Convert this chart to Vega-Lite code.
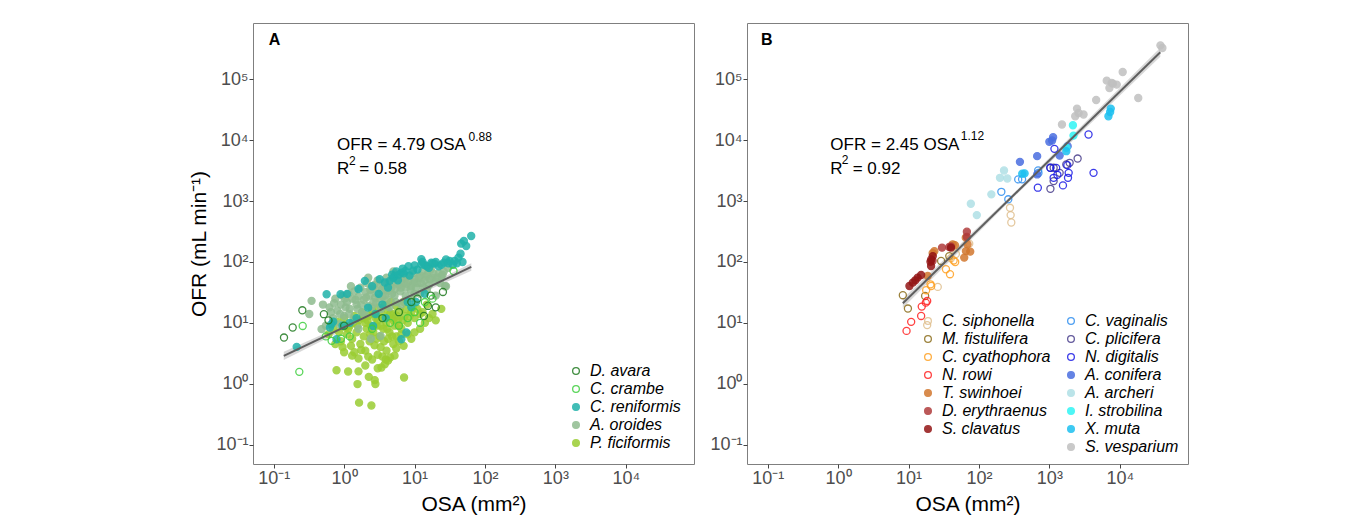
{
  "$schema": "https://vega.github.io/schema/vega-lite/v6.json",
  "background": "white",
  "padding": {"left": 188, "top": 22, "right": 0, "bottom": 0},
  "spacing": 14,
  "config": {
    "font": "Liberation Sans",
    "view": {"stroke": "#7f7f7f", "strokeWidth": 1},
    "axis": {"grid": false, "domain": false, "ticks": true, "tickColor": "#444444", "tickSize": 4, "labelColor": "#4d4d4d", "labelFontSize": 18, "labelPadding": 1, "titleFontSize": 21, "titleFontWeight": "normal", "titleColor": "#000000"}
  },
  "resolve": {"scale": {"fill": "independent", "stroke": "independent"}, "legend": {"fill": "independent", "stroke": "independent"}},
  "datasets": {
    "lineA": [{"x": 0.139, "y": 2.88}, {"x": 64, "y": 83}],
    "bandA": [{"x": 0.139, "lo": 2.45, "hi": 3.35}, {"x": 3, "lo": 14.5, "hi": 16.5}, {"x": 64, "lo": 72, "hi": 95}],
    "lineB": [{"x": 8.3, "y": 21}, {"x": 37600, "y": 278000}],
    "bandB": [{"x": 8.3, "lo": 17.5, "hi": 25}, {"x": 300, "lo": 1110, "hi": 1290}, {"x": 37600, "lo": 235000, "hi": 330000}],
    "annA": [
      {"k": "main", "x": 0.791, "y": 6840, "t": "OFR = 4.79 OSA"},
      {"k": "sup", "x": 58.4, "y": 9700, "t": "0.88"},
      {"k": "main", "x": 0.791, "y": 2830, "t": "R"},
      {"k": "sup", "x": 1.17, "y": 3930, "t": "2"},
      {"k": "main", "x": 1.64, "y": 2830, "t": "= 0.58"},
      {"k": "panel", "x": 0.085, "y": 366000, "t": "A"}
    ],
    "annB": [
      {"k": "main", "x": 0.776, "y": 6840, "t": "OFR = 2.45 OSA"},
      {"k": "sup", "x": 55.3, "y": 9980, "t": "1.12"},
      {"k": "main", "x": 0.776, "y": 2830, "t": "R"},
      {"k": "sup", "x": 1.13, "y": 4030, "t": "2"},
      {"k": "main", "x": 1.61, "y": 2830, "t": "= 0.92"},
      {"k": "panel", "x": 0.08, "y": 366000, "t": "B"}
    ],
    "ptsA": [
      {"sp": "P. ficiformis", "x": 0.78, "y": 1.67}, {"sp": "P. ficiformis", "x": 1.14, "y": 1.59}, {"sp": "P. ficiformis", "x": 1.55, "y": 0.99}, {"sp": "P. ficiformis", "x": 1.63, "y": 0.49}, {"sp": "P. ficiformis", "x": 2.44, "y": 0.44}, {"sp": "P. ficiformis", "x": 2.24, "y": 1.3}, {"sp": "P. ficiformis", "x": 2.78, "y": 0.99}, {"sp": "P. ficiformis", "x": 2.72, "y": 1.15}, {"sp": "P. ficiformis", "x": 7.1, "y": 1.27}, {"sp": "P. ficiformis", "x": 3.39, "y": 1.85}, {"sp": "P. ficiformis", "x": 3.78, "y": 2.1}, {"sp": "P. ficiformis", "x": 4.2, "y": 2.4}, {"sp": "P. ficiformis", "x": 5.2, "y": 2.9}, {"sp": "P. ficiformis", "x": 1.0, "y": 3.3}, {"sp": "P. ficiformis", "x": 1.3, "y": 2.9}, {"sp": "P. ficiformis", "x": 1.6, "y": 2.6}, {"sp": "P. ficiformis", "x": 2.0, "y": 3.5}, {"sp": "P. ficiformis", "x": 2.5, "y": 2.5}, {"sp": "P. ficiformis", "x": 3.0, "y": 3.0}, {"sp": "P. ficiformis", "x": 3.5, "y": 2.8}, {"sp": "P. ficiformis", "x": 4.0, "y": 3.5}, {"sp": "P. ficiformis", "x": 4.5, "y": 2.7}, {"sp": "P. ficiformis", "x": 5.0, "y": 4.5}, {"sp": "P. ficiformis", "x": 5.5, "y": 3.8}, {"sp": "P. ficiformis", "x": 6.0, "y": 5.0}, {"sp": "P. ficiformis", "x": 7.0, "y": 4.2}, {"sp": "P. ficiformis", "x": 8.0, "y": 6.5}, {"sp": "P. ficiformis", "x": 9.0, "y": 5.5}, {"sp": "P. ficiformis", "x": 10, "y": 7}, {"sp": "P. ficiformis", "x": 12, "y": 8}, {"sp": "P. ficiformis", "x": 14, "y": 10}, {"sp": "P. ficiformis", "x": 16, "y": 12}, {"sp": "P. ficiformis", "x": 18, "y": 14}, {"sp": "P. ficiformis", "x": 20, "y": 11}, {"sp": "P. ficiformis", "x": 24, "y": 17}, {"sp": "P. ficiformis", "x": 0.9, "y": 5}, {"sp": "P. ficiformis", "x": 1.1, "y": 6.5}, {"sp": "P. ficiformis", "x": 1.3, "y": 5.5}, {"sp": "P. ficiformis", "x": 1.5, "y": 7}, {"sp": "P. ficiformis", "x": 1.7, "y": 4.5}, {"sp": "P. ficiformis", "x": 1.9, "y": 6}, {"sp": "P. ficiformis", "x": 2.1, "y": 8}, {"sp": "P. ficiformis", "x": 2.3, "y": 5}, {"sp": "P. ficiformis", "x": 2.6, "y": 7}, {"sp": "P. ficiformis", "x": 2.9, "y": 9}, {"sp": "P. ficiformis", "x": 3.2, "y": 6}, {"sp": "P. ficiformis", "x": 3.6, "y": 8}, {"sp": "P. ficiformis", "x": 4.0, "y": 10}, {"sp": "P. ficiformis", "x": 4.4, "y": 7}, {"sp": "P. ficiformis", "x": 4.8, "y": 12}, {"sp": "P. ficiformis", "x": 5.2, "y": 9}, {"sp": "P. ficiformis", "x": 5.8, "y": 11}, {"sp": "P. ficiformis", "x": 6.5, "y": 8}, {"sp": "P. ficiformis", "x": 7.2, "y": 13}, {"sp": "P. ficiformis", "x": 8, "y": 10}, {"sp": "P. ficiformis", "x": 9, "y": 15}, {"sp": "P. ficiformis", "x": 10, "y": 12}, {"sp": "P. ficiformis", "x": 11, "y": 17}, {"sp": "P. ficiformis", "x": 13, "y": 15}, {"sp": "P. ficiformis", "x": 15, "y": 20}, {"sp": "P. ficiformis", "x": 0.7, "y": 8}, {"sp": "P. ficiformis", "x": 0.8, "y": 10.5}, {"sp": "P. ficiformis", "x": 1.0, "y": 12}, {"sp": "P. ficiformis", "x": 1.2, "y": 9}, {"sp": "P. ficiformis", "x": 1.4, "y": 13}, {"sp": "P. ficiformis", "x": 1.6, "y": 11}, {"sp": "P. ficiformis", "x": 1.8, "y": 15}, {"sp": "P. ficiformis", "x": 2.0, "y": 10}, {"sp": "P. ficiformis", "x": 2.2, "y": 13}, {"sp": "P. ficiformis", "x": 2.5, "y": 16}, {"sp": "P. ficiformis", "x": 2.8, "y": 12}, {"sp": "P. ficiformis", "x": 3.1, "y": 18}, {"sp": "P. ficiformis", "x": 3.4, "y": 14}, {"sp": "P. ficiformis", "x": 3.8, "y": 20}, {"sp": "P. ficiformis", "x": 4.2, "y": 16}, {"sp": "P. ficiformis", "x": 4.6, "y": 22}, {"sp": "P. ficiformis", "x": 5, "y": 14}, {"sp": "P. ficiformis", "x": 5.5, "y": 19}, {"sp": "P. ficiformis", "x": 6.2, "y": 16}, {"sp": "P. ficiformis", "x": 7, "y": 22}, {"sp": "P. ficiformis", "x": 0.95, "y": 4}, {"sp": "P. ficiformis", "x": 1.25, "y": 4.2}, {"sp": "P. ficiformis", "x": 1.75, "y": 3.6}, {"sp": "P. ficiformis", "x": 2.7, "y": 4.3}, {"sp": "P. ficiformis", "x": 3.3, "y": 4}, {"sp": "P. ficiformis", "x": 4.2, "y": 5.5}, {"sp": "P. ficiformis", "x": 5.5, "y": 6}, {"sp": "P. ficiformis", "x": 0.6, "y": 6.5}, {"sp": "P. ficiformis", "x": 0.75, "y": 4.5}, {"sp": "P. ficiformis", "x": 2.0, "y": 2.0}, {"sp": "P. ficiformis", "x": 3.0, "y": 1.8}, {"sp": "P. ficiformis", "x": 1.6, "y": 1.6},
      {"sp": "P. ficiformis", "x": 1.15, "y": 8}, {"sp": "P. ficiformis", "x": 1.35, "y": 10}, {"sp": "P. ficiformis", "x": 1.55, "y": 9}, {"sp": "P. ficiformis", "x": 1.85, "y": 12}, {"sp": "P. ficiformis", "x": 2.15, "y": 11}, {"sp": "P. ficiformis", "x": 2.4, "y": 9}, {"sp": "P. ficiformis", "x": 2.65, "y": 14}, {"sp": "P. ficiformis", "x": 3.0, "y": 11}, {"sp": "P. ficiformis", "x": 3.3, "y": 9}, {"sp": "P. ficiformis", "x": 3.7, "y": 12}, {"sp": "P. ficiformis", "x": 4.1, "y": 8}, {"sp": "P. ficiformis", "x": 4.5, "y": 14}, {"sp": "P. ficiformis", "x": 5, "y": 11}, {"sp": "P. ficiformis", "x": 5.6, "y": 13}, {"sp": "P. ficiformis", "x": 6.0, "y": 9}, {"sp": "P. ficiformis", "x": 6.8, "y": 11}, {"sp": "P. ficiformis", "x": 7.6, "y": 17}, {"sp": "P. ficiformis", "x": 8.5, "y": 13}, {"sp": "P. ficiformis", "x": 9.5, "y": 18}, {"sp": "P. ficiformis", "x": 12, "y": 14}, {"sp": "P. ficiformis", "x": 0.85, "y": 7}, {"sp": "P. ficiformis", "x": 1.05, "y": 8.5}, {"sp": "P. ficiformis", "x": 2.35, "y": 6.5}, {"sp": "P. ficiformis", "x": 2.9, "y": 5.5}, {"sp": "P. ficiformis", "x": 3.7, "y": 5}, {"sp": "P. ficiformis", "x": 4.8, "y": 6}, {"sp": "P. ficiformis", "x": 6.5, "y": 6.5}, {"sp": "P. ficiformis", "x": 1.4, "y": 3.3}, {"sp": "P. ficiformis", "x": 2.2, "y": 2.8}, {"sp": "P. ficiformis", "x": 3.9, "y": 2.5},
      {"sp": "A. oroides", "x": 0.32, "y": 14}, {"sp": "A. oroides", "x": 0.345, "y": 23}, {"sp": "A. oroides", "x": 0.478, "y": 7.9}, {"sp": "A. oroides", "x": 0.62, "y": 18}, {"sp": "A. oroides", "x": 0.7, "y": 12}, {"sp": "A. oroides", "x": 0.75, "y": 25}, {"sp": "A. oroides", "x": 0.8, "y": 16}, {"sp": "A. oroides", "x": 0.85, "y": 9.5}, {"sp": "A. oroides", "x": 0.9, "y": 20}, {"sp": "A. oroides", "x": 0.95, "y": 28}, {"sp": "A. oroides", "x": 1.0, "y": 13}, {"sp": "A. oroides", "x": 1.1, "y": 22}, {"sp": "A. oroides", "x": 1.15, "y": 30}, {"sp": "A. oroides", "x": 1.2, "y": 17}, {"sp": "A. oroides", "x": 1.3, "y": 25}, {"sp": "A. oroides", "x": 1.35, "y": 11}, {"sp": "A. oroides", "x": 1.4, "y": 33}, {"sp": "A. oroides", "x": 1.5, "y": 20}, {"sp": "A. oroides", "x": 1.6, "y": 27}, {"sp": "A. oroides", "x": 1.7, "y": 38}, {"sp": "A. oroides", "x": 1.8, "y": 15}, {"sp": "A. oroides", "x": 1.9, "y": 24}, {"sp": "A. oroides", "x": 2.0, "y": 32}, {"sp": "A. oroides", "x": 2.1, "y": 45}, {"sp": "A. oroides", "x": 2.2, "y": 19}, {"sp": "A. oroides", "x": 2.3, "y": 28}, {"sp": "A. oroides", "x": 2.5, "y": 36}, {"sp": "A. oroides", "x": 2.6, "y": 22}, {"sp": "A. oroides", "x": 2.7, "y": 42}, {"sp": "A. oroides", "x": 2.9, "y": 30}, {"sp": "A. oroides", "x": 3.0, "y": 50}, {"sp": "A. oroides", "x": 3.2, "y": 25}, {"sp": "A. oroides", "x": 3.4, "y": 35}, {"sp": "A. oroides", "x": 3.6, "y": 44}, {"sp": "A. oroides", "x": 3.8, "y": 28}, {"sp": "A. oroides", "x": 4.0, "y": 55}, {"sp": "A. oroides", "x": 4.2, "y": 33}, {"sp": "A. oroides", "x": 4.5, "y": 40}, {"sp": "A. oroides", "x": 4.8, "y": 30}, {"sp": "A. oroides", "x": 5.0, "y": 48}, {"sp": "A. oroides", "x": 5.3, "y": 36}, {"sp": "A. oroides", "x": 5.6, "y": 60}, {"sp": "A. oroides", "x": 6.0, "y": 42}, {"sp": "A. oroides", "x": 6.3, "y": 33}, {"sp": "A. oroides", "x": 6.7, "y": 52}, {"sp": "A. oroides", "x": 7.0, "y": 45}, {"sp": "A. oroides", "x": 7.5, "y": 38}, {"sp": "A. oroides", "x": 8.0, "y": 58}, {"sp": "A. oroides", "x": 8.5, "y": 48}, {"sp": "A. oroides", "x": 9.0, "y": 40}, {"sp": "A. oroides", "x": 9.5, "y": 65}, {"sp": "A. oroides", "x": 10, "y": 52}, {"sp": "A. oroides", "x": 11, "y": 45}, {"sp": "A. oroides", "x": 12, "y": 60}, {"sp": "A. oroides", "x": 13, "y": 70}, {"sp": "A. oroides", "x": 14, "y": 50}, {"sp": "A. oroides", "x": 15, "y": 62}, {"sp": "A. oroides", "x": 16, "y": 42}, {"sp": "A. oroides", "x": 17, "y": 75}, {"sp": "A. oroides", "x": 18, "y": 55}, {"sp": "A. oroides", "x": 20, "y": 48}, {"sp": "A. oroides", "x": 22, "y": 65}, {"sp": "A. oroides", "x": 24, "y": 58}, {"sp": "A. oroides", "x": 26, "y": 70}, {"sp": "A. oroides", "x": 28, "y": 40}, {"sp": "A. oroides", "x": 30, "y": 80}, {"sp": "A. oroides", "x": 3.3, "y": 6.1}, {"sp": "A. oroides", "x": 2.4, "y": 5.5}, {"sp": "A. oroides", "x": 1.6, "y": 8}, {"sp": "A. oroides", "x": 4.4, "y": 18}, {"sp": "A. oroides", "x": 6.5, "y": 20}, {"sp": "A. oroides", "x": 9, "y": 25}, {"sp": "A. oroides", "x": 12, "y": 30}, {"sp": "A. oroides", "x": 0.55, "y": 9}, {"sp": "A. oroides", "x": 1.25, "y": 40}, {"sp": "A. oroides", "x": 2.2, "y": 55}, {"sp": "A. oroides", "x": 5, "y": 70}, {"sp": "A. oroides", "x": 15.5, "y": 81}, {"sp": "A. oroides", "x": 27, "y": 40}, {"sp": "A. oroides", "x": 20, "y": 28},
      {"sp": "A. oroides", "x": 1.05, "y": 18}, {"sp": "A. oroides", "x": 1.45, "y": 24}, {"sp": "A. oroides", "x": 1.75, "y": 20}, {"sp": "A. oroides", "x": 2.05, "y": 26}, {"sp": "A. oroides", "x": 2.35, "y": 35}, {"sp": "A. oroides", "x": 2.75, "y": 26}, {"sp": "A. oroides", "x": 3.1, "y": 38}, {"sp": "A. oroides", "x": 3.5, "y": 27}, {"sp": "A. oroides", "x": 3.9, "y": 35}, {"sp": "A. oroides", "x": 4.3, "y": 46}, {"sp": "A. oroides", "x": 4.7, "y": 38}, {"sp": "A. oroides", "x": 5.2, "y": 28}, {"sp": "A. oroides", "x": 5.8, "y": 45}, {"sp": "A. oroides", "x": 6.4, "y": 38}, {"sp": "A. oroides", "x": 7.2, "y": 55}, {"sp": "A. oroides", "x": 7.8, "y": 44}, {"sp": "A. oroides", "x": 8.8, "y": 35}, {"sp": "A. oroides", "x": 9.8, "y": 46}, {"sp": "A. oroides", "x": 10.5, "y": 38}, {"sp": "A. oroides", "x": 11.5, "y": 55}, {"sp": "A. oroides", "x": 12.5, "y": 45}, {"sp": "A. oroides", "x": 13.5, "y": 38}, {"sp": "A. oroides", "x": 14.5, "y": 58}, {"sp": "A. oroides", "x": 16.5, "y": 52}, {"sp": "A. oroides", "x": 18.5, "y": 65}, {"sp": "A. oroides", "x": 21, "y": 55}, {"sp": "A. oroides", "x": 23, "y": 45}, {"sp": "A. oroides", "x": 25, "y": 62}, {"sp": "A. oroides", "x": 0.65, "y": 15}, {"sp": "A. oroides", "x": 0.72, "y": 21}, {"sp": "A. oroides", "x": 0.88, "y": 14}, {"sp": "A. oroides", "x": 1.02, "y": 25}, {"sp": "A. oroides", "x": 1.18, "y": 14}, {"sp": "A. oroides", "x": 1.55, "y": 17}, {"sp": "A. oroides", "x": 1.95, "y": 14}, {"sp": "A. oroides", "x": 2.45, "y": 18}, {"sp": "A. oroides", "x": 2.85, "y": 21}, {"sp": "A. oroides", "x": 3.35, "y": 17}, {"sp": "A. oroides", "x": 4.1, "y": 24}, {"sp": "A. oroides", "x": 5.4, "y": 22}, {"sp": "A. oroides", "x": 7.5, "y": 28}, {"sp": "A. oroides", "x": 10, "y": 30}, {"sp": "A. oroides", "x": 15, "y": 35}, {"sp": "A. oroides", "x": 0.5, "y": 20},
      {"sp": "C. reniformis", "x": 63.8, "y": 267}, {"sp": "C. reniformis", "x": 50.2, "y": 221}, {"sp": "C. reniformis", "x": 46, "y": 200}, {"sp": "C. reniformis", "x": 54.2, "y": 183}, {"sp": "C. reniformis", "x": 45, "y": 137}, {"sp": "C. reniformis", "x": 37, "y": 104}, {"sp": "C. reniformis", "x": 31.5, "y": 104}, {"sp": "C. reniformis", "x": 26.1, "y": 97.5}, {"sp": "C. reniformis", "x": 19.3, "y": 94}, {"sp": "C. reniformis", "x": 17.3, "y": 97.5}, {"sp": "C. reniformis", "x": 13.9, "y": 89}, {"sp": "C. reniformis", "x": 12.5, "y": 92}, {"sp": "C. reniformis", "x": 10, "y": 88}, {"sp": "C. reniformis", "x": 7.4, "y": 71}, {"sp": "C. reniformis", "x": 6.5, "y": 67}, {"sp": "C. reniformis", "x": 5.2, "y": 59}, {"sp": "C. reniformis", "x": 4.45, "y": 49}, {"sp": "C. reniformis", "x": 3.78, "y": 46}, {"sp": "C. reniformis", "x": 1.97, "y": 49}, {"sp": "C. reniformis", "x": 0.889, "y": 29.5}, {"sp": "C. reniformis", "x": 0.564, "y": 29.5}, {"sp": "C. reniformis", "x": 0.78, "y": 5.4}, {"sp": "C. reniformis", "x": 0.212, "y": 4.04}, {"sp": "C. reniformis", "x": 6.5, "y": 5.4}, {"sp": "C. reniformis", "x": 7.65, "y": 6.95}, {"sp": "C. reniformis", "x": 2.58, "y": 8.9}, {"sp": "C. reniformis", "x": 2.19, "y": 17.8}, {"sp": "C. reniformis", "x": 0.628, "y": 8.4}, {"sp": "C. reniformis", "x": 12.5, "y": 111}, {"sp": "C. reniformis", "x": 22, "y": 85}, {"sp": "C. reniformis", "x": 28, "y": 110}, {"sp": "C. reniformis", "x": 40, "y": 95}, {"sp": "C. reniformis", "x": 8.5, "y": 60}, {"sp": "C. reniformis", "x": 5.8, "y": 50}, {"sp": "C. reniformis", "x": 4.2, "y": 38}, {"sp": "C. reniformis", "x": 3.1, "y": 30}, {"sp": "C. reniformis", "x": 1.5, "y": 12}, {"sp": "C. reniformis", "x": 1.2, "y": 10}, {"sp": "C. reniformis", "x": 0.95, "y": 9}, {"sp": "C. reniformis", "x": 0.7, "y": 10.5}, {"sp": "C. reniformis", "x": 9, "y": 18}, {"sp": "C. reniformis", "x": 10.5, "y": 22}, {"sp": "C. reniformis", "x": 14, "y": 30}, {"sp": "C. reniformis", "x": 5, "y": 55}, {"sp": "C. reniformis", "x": 6, "y": 62}, {"sp": "C. reniformis", "x": 7, "y": 65}, {"sp": "C. reniformis", "x": 11, "y": 75}, {"sp": "C. reniformis", "x": 16, "y": 80}, {"sp": "C. reniformis", "x": 20, "y": 100}, {"sp": "C. reniformis", "x": 35, "y": 90}, {"sp": "C. reniformis", "x": 2.8, "y": 14}, {"sp": "C. reniformis", "x": 3.5, "y": 20}, {"sp": "C. reniformis", "x": 0.66, "y": 9.5},
      {"sp": "C. reniformis", "x": 2.5, "y": 40}, {"sp": "C. reniformis", "x": 3.2, "y": 52}, {"sp": "C. reniformis", "x": 4.8, "y": 62}, {"sp": "C. reniformis", "x": 5.5, "y": 70}, {"sp": "C. reniformis", "x": 6.8, "y": 78}, {"sp": "C. reniformis", "x": 8.2, "y": 85}, {"sp": "C. reniformis", "x": 9.5, "y": 72}, {"sp": "C. reniformis", "x": 13, "y": 100}, {"sp": "C. reniformis", "x": 15, "y": 85}, {"sp": "C. reniformis", "x": 18, "y": 95}, {"sp": "C. reniformis", "x": 24, "y": 90}, {"sp": "C. reniformis", "x": 30, "y": 95}, {"sp": "C. reniformis", "x": 42, "y": 118}, {"sp": "C. reniformis", "x": 48, "y": 100}, {"sp": "C. reniformis", "x": 3.9, "y": 12}, {"sp": "C. reniformis", "x": 8, "y": 22}, {"sp": "C. reniformis", "x": 1.1, "y": 30}, {"sp": "C. reniformis", "x": 1.6, "y": 36},
      {"sp": "D. avara", "x": 0.14, "y": 5.75}, {"sp": "D. avara", "x": 0.186, "y": 8.4}, {"sp": "D. avara", "x": 0.255, "y": 16.1}, {"sp": "D. avara", "x": 0.516, "y": 13.9}, {"sp": "D. avara", "x": 13.6, "y": 13}, {"sp": "D. avara", "x": 25.3, "y": 32.2}, {"sp": "D. avara", "x": 15.5, "y": 19}, {"sp": "D. avara", "x": 0.6, "y": 11}, {"sp": "D. avara", "x": 1.0, "y": 9}, {"sp": "D. avara", "x": 9, "y": 22}, {"sp": "D. avara", "x": 11, "y": 25}, {"sp": "D. avara", "x": 20, "y": 18}, {"sp": "D. avara", "x": 6, "y": 15}, {"sp": "D. avara", "x": 3.5, "y": 12}, {"sp": "D. avara", "x": 17, "y": 28},
      {"sp": "C. crambe", "x": 0.231, "y": 1.57}, {"sp": "C. crambe", "x": 0.258, "y": 8.9}, {"sp": "C. crambe", "x": 0.664, "y": 5.07}, {"sp": "C. crambe", "x": 35.8, "y": 71}, {"sp": "C. crambe", "x": 0.55, "y": 6}, {"sp": "C. crambe", "x": 0.9, "y": 5.5}, {"sp": "C. crambe", "x": 1.2, "y": 6}, {"sp": "C. crambe", "x": 8, "y": 12}, {"sp": "C. crambe", "x": 10, "y": 15}, {"sp": "C. crambe", "x": 14, "y": 22}, {"sp": "C. crambe", "x": 12, "y": 10}, {"sp": "C. crambe", "x": 6, "y": 9}, {"sp": "C. crambe", "x": 18, "y": 25}, {"sp": "C. crambe", "x": 4.5, "y": 10}, {"sp": "C. crambe", "x": 2.5, "y": 8}
    ],
    "ptsB": [
      {"sp": "C. siphonella", "x": 276, "y": 776}, {"sp": "C. siphonella", "x": 282, "y": 589}, {"sp": "C. siphonella", "x": 288, "y": 445}, {"sp": "C. siphonella", "x": 72.8, "y": 200}, {"sp": "C. siphonella", "x": 18.4, "y": 9.2}, {"sp": "C. siphonella", "x": 26, "y": 39}, {"sp": "C. siphonella", "x": 47, "y": 135}, {"sp": "C. siphonella", "x": 40, "y": 115},
      {"sp": "M. fistulifera", "x": 8.3, "y": 28.5}, {"sp": "M. fistulifera", "x": 9.8, "y": 17.2}, {"sp": "M. fistulifera", "x": 17.2, "y": 27.7}, {"sp": "M. fistulifera", "x": 29, "y": 104}, {"sp": "M. fistulifera", "x": 37.9, "y": 125},
      {"sp": "C. cyathophora", "x": 34, "y": 76}, {"sp": "C. cyathophora", "x": 38.8, "y": 63}, {"sp": "C. cyathophora", "x": 21, "y": 40.4}, {"sp": "C. cyathophora", "x": 17.8, "y": 34.4}, {"sp": "C. cyathophora", "x": 43.7, "y": 106}, {"sp": "C. cyathophora", "x": 20.5, "y": 43}, {"sp": "C. cyathophora", "x": 46, "y": 100},
      {"sp": "N. rowi", "x": 9.37, "y": 7.39}, {"sp": "N. rowi", "x": 10.9, "y": 10.4}, {"sp": "N. rowi", "x": 15.1, "y": 13}, {"sp": "N. rowi", "x": 15.4, "y": 18.5}, {"sp": "N. rowi", "x": 18.4, "y": 22.9}, {"sp": "N. rowi", "x": 17.6, "y": 21.5},
      {"sp": "T. swinhoei", "x": 23.3, "y": 151}, {"sp": "T. swinhoei", "x": 65.3, "y": 151}, {"sp": "T. swinhoei", "x": 75.2, "y": 148}, {"sp": "T. swinhoei", "x": 61.8, "y": 118}, {"sp": "T. swinhoei", "x": 68.9, "y": 195}, {"sp": "T. swinhoei", "x": 42.3, "y": 195}, {"sp": "T. swinhoei", "x": 18.7, "y": 59}, {"sp": "T. swinhoei", "x": 45.6, "y": 188}, {"sp": "T. swinhoei", "x": 65, "y": 251}, {"sp": "T. swinhoei", "x": 22, "y": 140},
      {"sp": "D. erythraenus", "x": 67.4, "y": 314}, {"sp": "D. erythraenus", "x": 67.4, "y": 257}, {"sp": "D. erythraenus", "x": 29.9, "y": 172}, {"sp": "D. erythraenus", "x": 37.9, "y": 176}, {"sp": "D. erythraenus", "x": 40, "y": 180}, {"sp": "D. erythraenus", "x": 22, "y": 105},
      {"sp": "S. clavatus", "x": 10.3, "y": 40.4}, {"sp": "S. clavatus", "x": 11.5, "y": 45.8}, {"sp": "S. clavatus", "x": 13.5, "y": 55.4}, {"sp": "S. clavatus", "x": 15.1, "y": 61.2}, {"sp": "S. clavatus", "x": 20.5, "y": 101}, {"sp": "S. clavatus", "x": 20.9, "y": 86}, {"sp": "S. clavatus", "x": 22.1, "y": 125}, {"sp": "S. clavatus", "x": 40.1, "y": 172}, {"sp": "S. clavatus", "x": 12.5, "y": 50}, {"sp": "S. clavatus", "x": 21, "y": 110},
      {"sp": "C. vaginalis", "x": 208, "y": 1420}, {"sp": "C. vaginalis", "x": 261, "y": 1070}, {"sp": "C. vaginalis", "x": 361, "y": 2270}, {"sp": "C. vaginalis", "x": 410, "y": 2280}, {"sp": "C. vaginalis", "x": 693, "y": 3180}, {"sp": "C. vaginalis", "x": 700, "y": 2900},
      {"sp": "C. plicifera", "x": 1035, "y": 1590}, {"sp": "C. plicifera", "x": 2520, "y": 5000}, {"sp": "C. plicifera", "x": 1740, "y": 3990}, {"sp": "C. plicifera", "x": 1400, "y": 2910}, {"sp": "C. plicifera", "x": 1150, "y": 3520}, {"sp": "C. plicifera", "x": 1035, "y": 3520}, {"sp": "C. plicifera", "x": 1150, "y": 2130}, {"sp": "C. plicifera", "x": 1940, "y": 4250},
      {"sp": "N. digitalis", "x": 3600, "y": 12400}, {"sp": "N. digitalis", "x": 1180, "y": 7210}, {"sp": "N. digitalis", "x": 4240, "y": 2910}, {"sp": "N. digitalis", "x": 686, "y": 1660}, {"sp": "N. digitalis", "x": 1560, "y": 1810}, {"sp": "N. digitalis", "x": 1840, "y": 2410}, {"sp": "N. digitalis", "x": 1880, "y": 2910}, {"sp": "N. digitalis", "x": 1150, "y": 2410}, {"sp": "N. digitalis", "x": 1030, "y": 3520}, {"sp": "N. digitalis", "x": 1800, "y": 3890}, {"sp": "N. digitalis", "x": 1250, "y": 3500}, {"sp": "N. digitalis", "x": 1300, "y": 2700},
      {"sp": "A. conifera", "x": 1094, "y": 9880}, {"sp": "A. conifera", "x": 1130, "y": 11200}, {"sp": "A. conifera", "x": 1000, "y": 9400}, {"sp": "A. conifera", "x": 382, "y": 4410}, {"sp": "A. conifera", "x": 671, "y": 5470}, {"sp": "A. conifera", "x": 1400, "y": 5610}, {"sp": "A. conifera", "x": 1820, "y": 7980}, {"sp": "A. conifera", "x": 671, "y": 2740},
      {"sp": "A. archeri", "x": 227, "y": 3180}, {"sp": "A. archeri", "x": 199, "y": 2410}, {"sp": "A. archeri", "x": 253, "y": 2350}, {"sp": "A. archeri", "x": 150, "y": 1290}, {"sp": "A. archeri", "x": 76.7, "y": 904}, {"sp": "A. archeri", "x": 93.3, "y": 589},
      {"sp": "I. strobilina", "x": 2160, "y": 17600}, {"sp": "I. strobilina", "x": 2200, "y": 11900}, {"sp": "I. strobilina", "x": 1750, "y": 7500},
      {"sp": "X. muta", "x": 6900, "y": 24700}, {"sp": "X. muta", "x": 7450, "y": 33000}, {"sp": "X. muta", "x": 7300, "y": 29100}, {"sp": "X. muta", "x": 1740, "y": 6600}, {"sp": "X. muta", "x": 412, "y": 2810}, {"sp": "X. muta", "x": 445, "y": 2850},
      {"sp": "S. vesparium", "x": 37800, "y": 361000}, {"sp": "S. vesparium", "x": 40300, "y": 326000}, {"sp": "S. vesparium", "x": 11000, "y": 132000}, {"sp": "S. vesparium", "x": 6530, "y": 95000}, {"sp": "S. vesparium", "x": 7690, "y": 87100}, {"sp": "S. vesparium", "x": 9060, "y": 81800}, {"sp": "S. vesparium", "x": 7130, "y": 72100}, {"sp": "S. vesparium", "x": 18300, "y": 49400}, {"sp": "S. vesparium", "x": 4620, "y": 45800}, {"sp": "S. vesparium", "x": 2470, "y": 33000}, {"sp": "S. vesparium", "x": 3060, "y": 26400}, {"sp": "S. vesparium", "x": 2330, "y": 24700}, {"sp": "S. vesparium", "x": 1510, "y": 18100}, {"sp": "S. vesparium", "x": 2600, "y": 28000}, {"sp": "S. vesparium", "x": 8000, "y": 85000}
    ]
  },
  "hconcat": [
    {
      "width": 441,
      "height": 441,
      "encoding": {
        "x": {"field": "x", "type": "quantitative", "title": "OSA (mm²)", "scale": {"type": "log", "domain": [0.0508, 93100], "nice": false, "zero": false}, "axis": {"values": [0.1, 1, 10, 100, 1000, 10000], "labelExpr": "['10⁻¹','10⁰','10¹','10²','10³','10⁴','10⁵'][round(log(datum.value)/LN10)+1]", "labelFlush": false, "labelOverlap": false, "titlePadding": 6}},
        "y": {"field": "y", "type": "quantitative", "title": "OFR (mL min⁻¹)", "scale": {"type": "log", "domain": [0.0482, 840000], "nice": false, "zero": false}, "axis": {"values": [0.1, 1, 10, 100, 1000, 10000, 100000], "labelExpr": "['10⁻¹','10⁰','10¹','10²','10³','10⁴','10⁵'][round(log(datum.value)/LN10)+1]", "labelFlush": false, "labelOverlap": false, "titlePadding": 6}}
      },
      "layer": [
        {"data": {"name": "bandA"}, "mark": {"type": "area", "color": "#c8c8c8", "opacity": 0.7}, "encoding": {"y": {"field": "lo", "type": "quantitative", "title": "OFR (mL min⁻¹)"}, "y2": {"field": "hi"}}},
        {"data": {"name": "ptsA"}, "mark": {"type": "point", "shape": "circle", "size": 50, "strokeWidth": 1.3, "opacity": 0.85},
          "encoding": {
            "fill": {"field": "sp", "type": "nominal", "scale": {"domain": ["D. avara", "C. crambe", "C. reniformis", "A. oroides", "P. ficiformis"], "range": ["transparent", "transparent", "#20b2aa", "#8fbc8f", "#9acd32"]}, "legend": {"title": null, "orient": "bottom-right", "offset": 13, "padding": 0, "labelFontSize": 16, "labelFontStyle": "italic", "labelColor": "#000000", "symbolSize": 45, "symbolStrokeWidth": 1.3, "labelOffset": 6, "rowPadding": 2}},
            "stroke": {"field": "sp", "type": "nominal", "scale": {"domain": ["D. avara", "C. crambe", "C. reniformis", "A. oroides", "P. ficiformis"], "range": ["#1f7a1f", "#3ecf3e", "#20b2aa", "#8fbc8f", "#9acd32"]}, "legend": {"title": null, "orient": "bottom-right", "offset": 13, "padding": 0, "labelFontSize": 16, "labelFontStyle": "italic", "labelColor": "#000000", "symbolSize": 45, "symbolStrokeWidth": 1.3, "labelOffset": 6, "rowPadding": 2}}
          }},
        {"data": {"name": "lineA"}, "mark": {"type": "line", "color": "#5e5e5e", "strokeWidth": 2}, "encoding": {}},
        {"data": {"name": "annA"}, "transform": [{"filter": "datum.k == 'main'"}], "mark": {"type": "text", "align": "left", "baseline": "alphabetic", "fontSize": 17, "color": "#000000"}, "encoding": {"text": {"field": "t"}}},
        {"data": {"name": "annA"}, "transform": [{"filter": "datum.k == 'sup'"}], "mark": {"type": "text", "align": "left", "baseline": "alphabetic", "fontSize": 12, "color": "#000000"}, "encoding": {"text": {"field": "t"}}},
        {"data": {"name": "annA"}, "transform": [{"filter": "datum.k == 'panel'"}], "mark": {"type": "text", "align": "left", "baseline": "alphabetic", "fontSize": 16, "fontWeight": "bold", "color": "#000000"}, "encoding": {"text": {"field": "t"}}}
      ]
    },
    {
      "width": 441,
      "height": 441,
      "encoding": {
        "x": {"field": "x", "type": "quantitative", "title": "OSA (mm²)", "scale": {"type": "log", "domain": [0.0508, 93100], "nice": false, "zero": false}, "axis": {"values": [0.1, 1, 10, 100, 1000, 10000], "labelExpr": "['10⁻¹','10⁰','10¹','10²','10³','10⁴','10⁵'][round(log(datum.value)/LN10)+1]", "labelFlush": false, "labelOverlap": false, "titlePadding": 6}},
        "y": {"field": "y", "type": "quantitative", "title": null, "scale": {"type": "log", "domain": [0.0482, 840000], "nice": false, "zero": false}, "axis": {"values": [0.1, 1, 10, 100, 1000, 10000, 100000], "labelExpr": "['10⁻¹','10⁰','10¹','10²','10³','10⁴','10⁵'][round(log(datum.value)/LN10)+1]", "labelFlush": false, "labelOverlap": false}}
      },
      "layer": [
        {"data": {"name": "bandB"}, "mark": {"type": "area", "color": "#c8c8c8", "opacity": 0.7}, "encoding": {"y": {"field": "lo", "type": "quantitative", "title": null}, "y2": {"field": "hi"}}},
        {"data": {"name": "ptsB"}, "mark": {"type": "point", "shape": "circle", "size": 50, "strokeWidth": 1.3, "opacity": 0.85},
          "encoding": {
            "fill": {"field": "sp", "type": "nominal", "scale": {"domain": ["C. siphonella", "M. fistulifera", "C. cyathophora", "N. rowi", "T. swinhoei", "D. erythraenus", "S. clavatus", "zz", "C. vaginalis", "C. plicifera", "N. digitalis", "A. conifera", "A. archeri", "I. strobilina", "X. muta", "S. vesparium"], "range": ["transparent", "transparent", "transparent", "transparent", "#d2772e", "#b03c3c", "#931515", "transparent", "transparent", "transparent", "transparent", "#4a6ee0", "#b0e0e6", "#30f5f5", "#1cc0f0", "#c0c0c0"]}, "legend": {"title": null, "orient": "bottom-right", "offset": 9, "padding": 0, "columns": 2, "columnPadding": 12, "labelFontSize": 16, "labelFontStyle": "italic", "labelColor": "#000000", "symbolSize": 45, "symbolStrokeWidth": 1.3, "labelOffset": 6, "rowPadding": 2, "labelExpr": "datum.label == 'zz' ? '' : datum.label"}},
            "stroke": {"field": "sp", "type": "nominal", "scale": {"domain": ["C. siphonella", "M. fistulifera", "C. cyathophora", "N. rowi", "T. swinhoei", "D. erythraenus", "S. clavatus", "zz", "C. vaginalis", "C. plicifera", "N. digitalis", "A. conifera", "A. archeri", "I. strobilina", "X. muta", "S. vesparium"], "range": ["#e0bf8e", "#8b6d1a", "#ffa020", "#ff2020", "#d2772e", "#b03c3c", "#931515", "transparent", "#2f8ff0", "#483d8b", "#1a1ae6", "#4a6ee0", "#b0e0e6", "#30f5f5", "#1cc0f0", "#c0c0c0"]}, "legend": {"title": null, "orient": "bottom-right", "offset": 9, "padding": 0, "columns": 2, "columnPadding": 12, "labelFontSize": 16, "labelFontStyle": "italic", "labelColor": "#000000", "symbolSize": 45, "symbolStrokeWidth": 1.3, "labelOffset": 6, "rowPadding": 2, "labelExpr": "datum.label == 'zz' ? '' : datum.label"}}
          }},
        {"data": {"name": "lineB"}, "mark": {"type": "line", "color": "#5e5e5e", "strokeWidth": 2}, "encoding": {}},
        {"data": {"name": "annB"}, "transform": [{"filter": "datum.k == 'main'"}], "mark": {"type": "text", "align": "left", "baseline": "alphabetic", "fontSize": 17, "color": "#000000"}, "encoding": {"text": {"field": "t"}}},
        {"data": {"name": "annB"}, "transform": [{"filter": "datum.k == 'sup'"}], "mark": {"type": "text", "align": "left", "baseline": "alphabetic", "fontSize": 12, "color": "#000000"}, "encoding": {"text": {"field": "t"}}},
        {"data": {"name": "annB"}, "transform": [{"filter": "datum.k == 'panel'"}], "mark": {"type": "text", "align": "left", "baseline": "alphabetic", "fontSize": 16, "fontWeight": "bold", "color": "#000000"}, "encoding": {"text": {"field": "t"}}}
      ]
    }
  ]
}
